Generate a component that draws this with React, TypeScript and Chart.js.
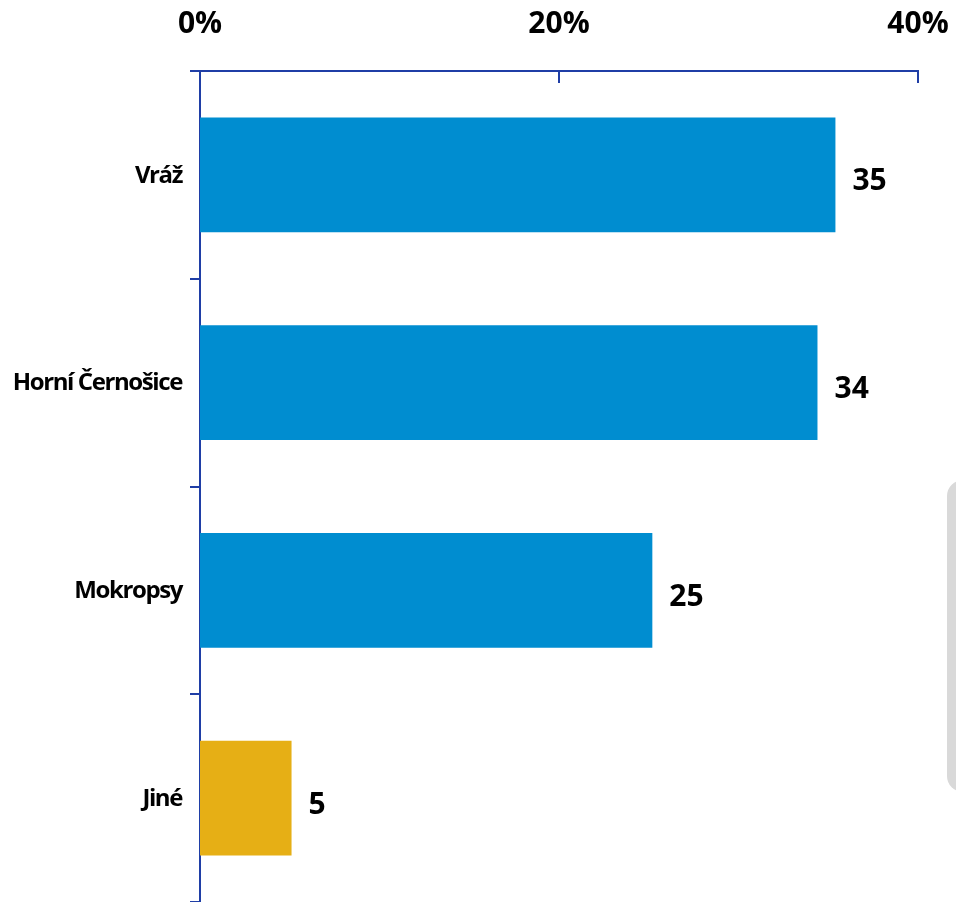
import React, { useEffect, useRef } from "react";
import { Chart, registerables } from "chart.js";

Chart.register(...registerables);

const categories = ["Vráž", "Horní Černošice", "Mokropsy", "Jiné"];
const values = [35.4, 34.4, 25.2, 5.1];
const valueLabels = ["35", "34", "25", "5"];
const barColors = ["#008dd0", "#008dd0", "#008dd0", "#e6af15"];
const xTickValues = [0, 20, 40];

const AXIS = "#1f3ea6";

export default function App() {
  const ref = useRef<HTMLCanvasElement | null>(null);
  useEffect(() => {
    if (!ref.current) return;
    const labelPlugin = {
      id: "valueLabels",
      afterDatasetsDraw(chart: any) {
        const ctx = chart.ctx;
        const meta = chart.getDatasetMeta(0);
        ctx.save();
        ctx.font = "bold 30px 'Open Sans', sans-serif";
        ctx.fillStyle = "#000";
        ctx.textBaseline = "middle";
        ctx.textAlign = "left";
        meta.data.forEach((bar: any, i: number) => {
          ctx.fillText(valueLabels[i], bar.x + 17, bar.y + 7);
        });
        ctx.restore();
      },
    };
    const axisPlugin = {
      id: "axisExtras",
      afterDraw(chart: any) {
        const ctx = chart.ctx;
        const xs = chart.scales.x;
        const ys = chart.scales.y;
        const top = chart.chartArea.top;
        ctx.save();
        ctx.strokeStyle = AXIS;
        ctx.lineWidth = 2;
        xTickValues.forEach((v) => {
          const px = xs.getPixelForValue(v);
          ctx.beginPath();
          ctx.moveTo(px, top);
          ctx.lineTo(px, top + 12);
          ctx.stroke();
        });
        ctx.font = "bold 24px 'Open Sans', sans-serif";
        (ctx as any).letterSpacing = "-1.4px";
        ctx.fillStyle = "#000";
        ctx.textAlign = "right";
        ctx.textBaseline = "middle";
        categories.forEach((c, i) => {
          ctx.fillText(c, ys.right - 18, ys.getPixelForValue(i) + 1);
        });
        ctx.restore();
      },
    };
    const chart = new Chart(ref.current, {
      type: "bar",
      data: {
        labels: categories,
        datasets: [
          {
            data: values,
            backgroundColor: barColors,
            barPercentage: 0.553,
            categoryPercentage: 1,
          },
        ],
      },
      options: {
        indexAxis: "y",
        animation: false,
        responsive: false,
        maintainAspectRatio: false,
        layout: { padding: { right: 38, top: 0, bottom: 0, left: 0 } },
        plugins: { legend: { display: false }, tooltip: { enabled: false } },
        scales: {
          x: {
            position: "top",
            min: 0,
            max: 40,
            afterBuildTicks(scale: any) {
              scale.ticks = xTickValues.map((v) => ({ value: v }));
            },
            afterFit(scale: any) {
              scale.height = 71;
              scale.paddingLeft = 0;
              scale.paddingRight = 0;
            },
            grid: { display: false },
            border: { display: true, color: AXIS, width: 2 },
            ticks: {
              padding: 21,
              color: "#000",
              font: { family: "'Open Sans', sans-serif", size: 30, weight: "bold" },
              callback: (v: any) => v + "%",
            },
          },
          y: {
            afterFit(scale: any) {
              scale.width = 200;
              scale.paddingTop = 0;
              scale.paddingBottom = 0;
            },
            grid: {
              display: true,
              drawOnChartArea: false,
              drawTicks: true,
              tickLength: 10,
              offset: true,
              color: AXIS,
              lineWidth: 2,
            },
            border: { display: true, color: AXIS, width: 2 },
            ticks: {
              display: false,
            },
          },
        },
      },
      plugins: [labelPlugin, axisPlugin],
    });
    return () => chart.destroy();
  }, []);
  return (
    <div style={{ position: "absolute", left: 0, top: 0, width: 956, height: 902, background: "#fff", overflow: "hidden" }}>
      <canvas ref={ref} width={956} height={902} style={{ display: "block" }} />
      <div
        style={{
          position: "absolute",
          left: 947,
          top: 480,
          width: 40,
          height: 312,
          background: "#d9d9d9",
          borderRadius: 16,
        }}
      />
    </div>
  );
}
